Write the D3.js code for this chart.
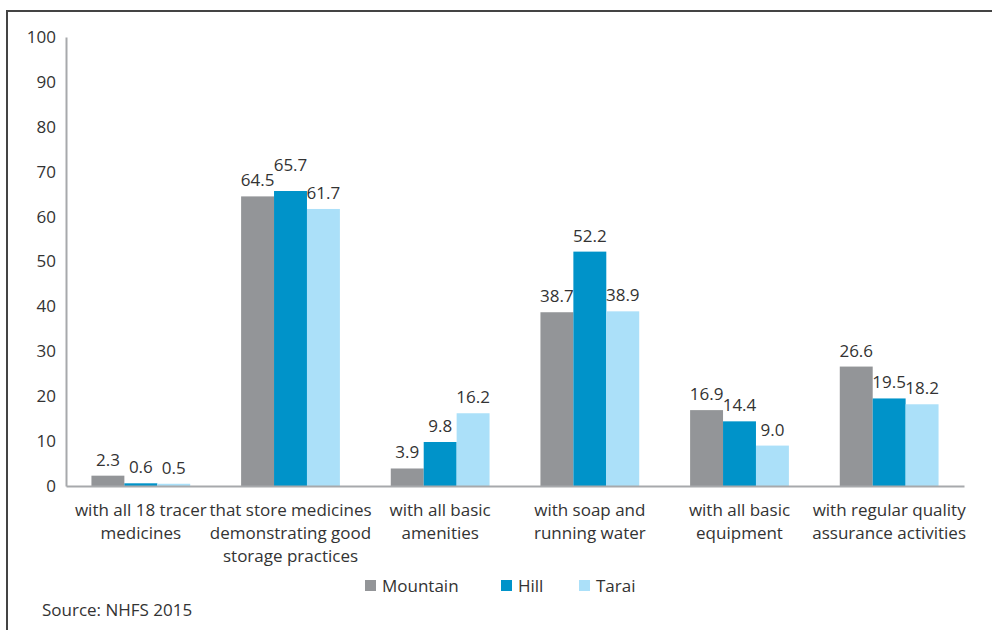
<!DOCTYPE html>
<html><head><meta charset="utf-8">
<script src="https://cdn.jsdelivr.net/npm/d3@7"></script>
<style>body{margin:0;background:#fff}svg{display:block}text{font-family:"Open Sans",sans-serif;fill:#333}</style>
</head><body>
<svg id="c" width="992" height="630"></svg>
<script>
const categories = [
  ["with all 18 tracer","medicines"],
  ["that store medicines","demonstrating good","storage practices"],
  ["with all basic","amenities"],
  ["with soap and","running water"],
  ["with all basic","equipment"],
  ["with regular quality","assurance activities"]
];
const seriesNames = ["Mountain","Hill","Tarai"];
const mountain = [2.3,64.5,3.9,38.7,16.9,26.6];
const hill = [0.6,65.7,9.8,52.2,14.4,19.5];
const tarai = [0.5,61.7,16.2,38.9,9.0,18.2];
const yTicks = [0,10,20,30,40,50,60,70,80,90,100];
const colors = ["#939598","#0093c9","#abe0f9"];
const sourceText = "Source: NHFS 2015";

(function(){
const series = [mountain,hill,tarai];
const svg = d3.select("#c");
svg.append("path").attr("d","M7,640 V11 H1000").attr("fill","none").attr("stroke","#444").attr("stroke-width",2);

const pL=66,pR=964,pT=37,pB=486;
const x = d3.scaleBand().domain(d3.range(categories.length)).range([pL,pR]).paddingInner(0.34).paddingOuter(0.17);
const xs = d3.scaleBand().domain(d3.range(series.length)).range([0,x.bandwidth()]);
const y = d3.scaleLinear().domain([0,100]).range([pB,pT]);

const ya = svg.append("g").attr("transform",`translate(${pL},0)`).call(d3.axisLeft(y).tickValues(yTicks).tickSize(0).tickPadding(10));
ya.select(".domain").attr("stroke","#a7a9ac").attr("stroke-width",2);
ya.selectAll("text").style("font-size","17px").attr("fill","#333").style("font-family","'Open Sans',sans-serif");

series.forEach((s,i)=>{
  svg.append("g").selectAll("rect").data(s).join("rect")
    .attr("x",(d,j)=>x(j)+xs(i)).attr("width",xs.bandwidth())
    .attr("y",d=>y(d)).attr("height",d=>pB-y(d)).attr("fill",colors[i]);
});
// value labels with simple collision nudge within a group
categories.forEach((c,j)=>{
  let prev=null;
  series.forEach((s,i)=>{
    const cx = x(j)+xs(i)+xs.bandwidth()/2;
    let by = y(s[j])-10;
    const t = svg.append("text").attr("x",cx).attr("y",by).attr("text-anchor","middle").style("font-size","17px").text(s[j].toFixed(1));
    const w = t.node().getComputedTextLength();
    if(prev && cx-w/2 < prev.r+2 && Math.abs(by-prev.by)<5.6){ by = prev.by-15; t.attr("y",by); }
    prev={r:cx+w/2,by:by};
  });
});

const xa = svg.append("g").attr("transform",`translate(0,${pB})`).call(d3.axisBottom(x).tickSize(0).tickFormat(""));
xa.select(".domain").attr("stroke","#a7a9ac").attr("stroke-width",2);
categories.forEach((lines,j)=>{
  const t = svg.append("text").attr("text-anchor","middle").style("font-size","17px")
    .attr("x",x(j)+x.bandwidth()/2).attr("y",516);
  lines.forEach((l,k)=>t.append("tspan").attr("x",x(j)+x.bandwidth()/2).attr("dy",k?23:0).text(l));
});

const legX=[365,501,579];
seriesNames.forEach((n,i)=>{
  svg.append("rect").attr("x",legX[i]).attr("y",580).attr("width",11).attr("height",11).attr("fill",colors[i]);
  svg.append("text").attr("x",legX[i]+17).attr("y",592).style("font-size","17px").text(n);
});
svg.append("text").attr("x",42).attr("y",616).style("font-size","17px").text(sourceText);
})();
</script>
</body></html>
